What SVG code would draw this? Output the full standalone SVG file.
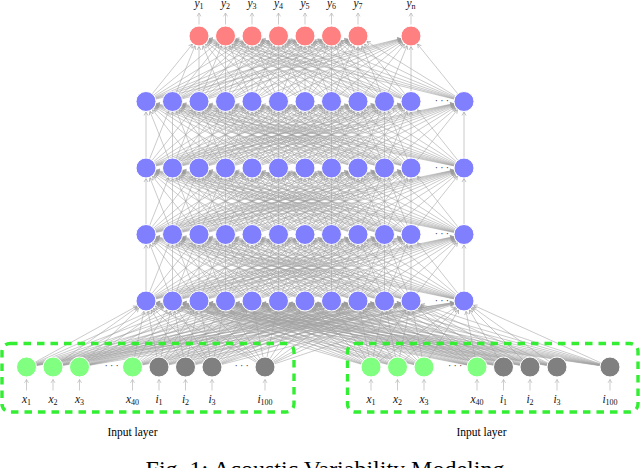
<svg xmlns="http://www.w3.org/2000/svg" xmlns:xlink="http://www.w3.org/1999/xlink" width="640" height="468" viewBox="0 0 640 468">
<style>
.c path{stroke:#a0a0a0;stroke-width:0.55;fill:none;marker-end:url(#ah)}
.sa line{stroke:#b8b8b8;stroke-width:0.7;marker-end:url(#ah2)}
.hn{fill:#8080ff;stroke:#fff;stroke-width:1}
.on{fill:#ff8080;stroke:#fff;stroke-width:1}
.xn{fill:#80ff80;stroke:#fff;stroke-width:1}
.in{fill:#808080;stroke:#fff;stroke-width:1}
.lb{font-family:"Liberation Serif",serif;font-style:italic;font-size:11.5px;text-anchor:middle;fill:#111}
.sb{font-style:normal;font-size:8px}
.dt{font-family:"Liberation Serif",serif;font-size:10px;letter-spacing:2.2px;fill:#333}
.tt{font-family:"Liberation Serif",serif;font-size:11.5px;text-anchor:middle;fill:#000}
.cap{font-family:"Liberation Serif",serif;font-size:24px;text-anchor:middle;fill:#000}
.bx{fill:none;stroke:#33ee33;stroke-width:3.4;stroke-dasharray:7.5 6}
</style>
<defs>
<marker id="ah" markerUnits="userSpaceOnUse" orient="auto" overflow="visible" markerWidth="1" markerHeight="1" refX="0" refY="0"><path d="M-14,-2 L-10.6,0 L-14,2" fill="none" stroke="#999" stroke-width="0.6"/></marker>
<marker id="ah2" markerUnits="userSpaceOnUse" orient="auto" overflow="visible" markerWidth="1" markerHeight="1" refX="0" refY="0"><path d="M-3.4,-2 L0,0 L-3.4,2" fill="none" stroke="#b8b8b8" stroke-width="0.7"/></marker>
<g id="hh" class="c">
<path d="M146 66.5L146 0"/><path d="M146 66.5L172.5 0"/><path d="M146 66.5L199 0"/><path d="M146 66.5L225.5 0"/><path d="M146 66.5L252 0"/><path d="M146 66.5L278.5 0"/><path d="M146 66.5L305 0"/><path d="M146 66.5L331.5 0"/><path d="M146 66.5L358 0"/><path d="M146 66.5L384.5 0"/><path d="M146 66.5L411 0"/><path d="M146 66.5L464 0"/>
<path d="M172.5 66.5L146 0"/><path d="M172.5 66.5L172.5 0"/><path d="M172.5 66.5L199 0"/><path d="M172.5 66.5L225.5 0"/><path d="M172.5 66.5L252 0"/><path d="M172.5 66.5L278.5 0"/><path d="M172.5 66.5L305 0"/><path d="M172.5 66.5L331.5 0"/><path d="M172.5 66.5L358 0"/><path d="M172.5 66.5L384.5 0"/><path d="M172.5 66.5L411 0"/><path d="M172.5 66.5L464 0"/>
<path d="M199 66.5L146 0"/><path d="M199 66.5L172.5 0"/><path d="M199 66.5L199 0"/><path d="M199 66.5L225.5 0"/><path d="M199 66.5L252 0"/><path d="M199 66.5L278.5 0"/><path d="M199 66.5L305 0"/><path d="M199 66.5L331.5 0"/><path d="M199 66.5L358 0"/><path d="M199 66.5L384.5 0"/><path d="M199 66.5L411 0"/><path d="M199 66.5L464 0"/>
<path d="M225.5 66.5L146 0"/><path d="M225.5 66.5L172.5 0"/><path d="M225.5 66.5L199 0"/><path d="M225.5 66.5L225.5 0"/><path d="M225.5 66.5L252 0"/><path d="M225.5 66.5L278.5 0"/><path d="M225.5 66.5L305 0"/><path d="M225.5 66.5L331.5 0"/><path d="M225.5 66.5L358 0"/><path d="M225.5 66.5L384.5 0"/><path d="M225.5 66.5L411 0"/><path d="M225.5 66.5L464 0"/>
<path d="M252 66.5L146 0"/><path d="M252 66.5L172.5 0"/><path d="M252 66.5L199 0"/><path d="M252 66.5L225.5 0"/><path d="M252 66.5L252 0"/><path d="M252 66.5L278.5 0"/><path d="M252 66.5L305 0"/><path d="M252 66.5L331.5 0"/><path d="M252 66.5L358 0"/><path d="M252 66.5L384.5 0"/><path d="M252 66.5L411 0"/><path d="M252 66.5L464 0"/>
<path d="M278.5 66.5L146 0"/><path d="M278.5 66.5L172.5 0"/><path d="M278.5 66.5L199 0"/><path d="M278.5 66.5L225.5 0"/><path d="M278.5 66.5L252 0"/><path d="M278.5 66.5L278.5 0"/><path d="M278.5 66.5L305 0"/><path d="M278.5 66.5L331.5 0"/><path d="M278.5 66.5L358 0"/><path d="M278.5 66.5L384.5 0"/><path d="M278.5 66.5L411 0"/><path d="M278.5 66.5L464 0"/>
<path d="M305 66.5L146 0"/><path d="M305 66.5L172.5 0"/><path d="M305 66.5L199 0"/><path d="M305 66.5L225.5 0"/><path d="M305 66.5L252 0"/><path d="M305 66.5L278.5 0"/><path d="M305 66.5L305 0"/><path d="M305 66.5L331.5 0"/><path d="M305 66.5L358 0"/><path d="M305 66.5L384.5 0"/><path d="M305 66.5L411 0"/><path d="M305 66.5L464 0"/>
<path d="M331.5 66.5L146 0"/><path d="M331.5 66.5L172.5 0"/><path d="M331.5 66.5L199 0"/><path d="M331.5 66.5L225.5 0"/><path d="M331.5 66.5L252 0"/><path d="M331.5 66.5L278.5 0"/><path d="M331.5 66.5L305 0"/><path d="M331.5 66.5L331.5 0"/><path d="M331.5 66.5L358 0"/><path d="M331.5 66.5L384.5 0"/><path d="M331.5 66.5L411 0"/><path d="M331.5 66.5L464 0"/>
<path d="M358 66.5L146 0"/><path d="M358 66.5L172.5 0"/><path d="M358 66.5L199 0"/><path d="M358 66.5L225.5 0"/><path d="M358 66.5L252 0"/><path d="M358 66.5L278.5 0"/><path d="M358 66.5L305 0"/><path d="M358 66.5L331.5 0"/><path d="M358 66.5L358 0"/><path d="M358 66.5L384.5 0"/><path d="M358 66.5L411 0"/><path d="M358 66.5L464 0"/>
<path d="M384.5 66.5L146 0"/><path d="M384.5 66.5L172.5 0"/><path d="M384.5 66.5L199 0"/><path d="M384.5 66.5L225.5 0"/><path d="M384.5 66.5L252 0"/><path d="M384.5 66.5L278.5 0"/><path d="M384.5 66.5L305 0"/><path d="M384.5 66.5L331.5 0"/><path d="M384.5 66.5L358 0"/><path d="M384.5 66.5L384.5 0"/><path d="M384.5 66.5L411 0"/><path d="M384.5 66.5L464 0"/>
<path d="M411 66.5L146 0"/><path d="M411 66.5L172.5 0"/><path d="M411 66.5L199 0"/><path d="M411 66.5L225.5 0"/><path d="M411 66.5L252 0"/><path d="M411 66.5L278.5 0"/><path d="M411 66.5L305 0"/><path d="M411 66.5L331.5 0"/><path d="M411 66.5L358 0"/><path d="M411 66.5L384.5 0"/><path d="M411 66.5L411 0"/><path d="M411 66.5L464 0"/>
<path d="M464 66.5L146 0"/><path d="M464 66.5L172.5 0"/><path d="M464 66.5L199 0"/><path d="M464 66.5L225.5 0"/><path d="M464 66.5L252 0"/><path d="M464 66.5L278.5 0"/><path d="M464 66.5L305 0"/><path d="M464 66.5L331.5 0"/><path d="M464 66.5L358 0"/><path d="M464 66.5L384.5 0"/><path d="M464 66.5L411 0"/><path d="M464 66.5L464 0"/>
</g>
</defs>
<rect width="640" height="468" fill="#fff"/>
<g id="connectors">
<use xlink:href="#hh" href="#hh" y="101.5"/>
<use xlink:href="#hh" href="#hh" y="168"/>
<use xlink:href="#hh" href="#hh" y="234.5"/>
<g class="c">
<path d="M146 101.5L199 36"/><path d="M146 101.5L225.5 36"/><path d="M146 101.5L252 36"/><path d="M146 101.5L278.5 36"/><path d="M146 101.5L305 36"/><path d="M146 101.5L331.5 36"/><path d="M146 101.5L358 36"/><path d="M146 101.5L411 36"/>
<path d="M172.5 101.5L199 36"/><path d="M172.5 101.5L225.5 36"/><path d="M172.5 101.5L252 36"/><path d="M172.5 101.5L278.5 36"/><path d="M172.5 101.5L305 36"/><path d="M172.5 101.5L331.5 36"/><path d="M172.5 101.5L358 36"/><path d="M172.5 101.5L411 36"/>
<path d="M199 101.5L199 36"/><path d="M199 101.5L225.5 36"/><path d="M199 101.5L252 36"/><path d="M199 101.5L278.5 36"/><path d="M199 101.5L305 36"/><path d="M199 101.5L331.5 36"/><path d="M199 101.5L358 36"/><path d="M199 101.5L411 36"/>
<path d="M225.5 101.5L199 36"/><path d="M225.5 101.5L225.5 36"/><path d="M225.5 101.5L252 36"/><path d="M225.5 101.5L278.5 36"/><path d="M225.5 101.5L305 36"/><path d="M225.5 101.5L331.5 36"/><path d="M225.5 101.5L358 36"/><path d="M225.5 101.5L411 36"/>
<path d="M252 101.5L199 36"/><path d="M252 101.5L225.5 36"/><path d="M252 101.5L252 36"/><path d="M252 101.5L278.5 36"/><path d="M252 101.5L305 36"/><path d="M252 101.5L331.5 36"/><path d="M252 101.5L358 36"/><path d="M252 101.5L411 36"/>
<path d="M278.5 101.5L199 36"/><path d="M278.5 101.5L225.5 36"/><path d="M278.5 101.5L252 36"/><path d="M278.5 101.5L278.5 36"/><path d="M278.5 101.5L305 36"/><path d="M278.5 101.5L331.5 36"/><path d="M278.5 101.5L358 36"/><path d="M278.5 101.5L411 36"/>
<path d="M305 101.5L199 36"/><path d="M305 101.5L225.5 36"/><path d="M305 101.5L252 36"/><path d="M305 101.5L278.5 36"/><path d="M305 101.5L305 36"/><path d="M305 101.5L331.5 36"/><path d="M305 101.5L358 36"/><path d="M305 101.5L411 36"/>
<path d="M331.5 101.5L199 36"/><path d="M331.5 101.5L225.5 36"/><path d="M331.5 101.5L252 36"/><path d="M331.5 101.5L278.5 36"/><path d="M331.5 101.5L305 36"/><path d="M331.5 101.5L331.5 36"/><path d="M331.5 101.5L358 36"/><path d="M331.5 101.5L411 36"/>
<path d="M358 101.5L199 36"/><path d="M358 101.5L225.5 36"/><path d="M358 101.5L252 36"/><path d="M358 101.5L278.5 36"/><path d="M358 101.5L305 36"/><path d="M358 101.5L331.5 36"/><path d="M358 101.5L358 36"/><path d="M358 101.5L411 36"/>
<path d="M384.5 101.5L199 36"/><path d="M384.5 101.5L225.5 36"/><path d="M384.5 101.5L252 36"/><path d="M384.5 101.5L278.5 36"/><path d="M384.5 101.5L305 36"/><path d="M384.5 101.5L331.5 36"/><path d="M384.5 101.5L358 36"/><path d="M384.5 101.5L411 36"/>
<path d="M411 101.5L199 36"/><path d="M411 101.5L225.5 36"/><path d="M411 101.5L252 36"/><path d="M411 101.5L278.5 36"/><path d="M411 101.5L305 36"/><path d="M411 101.5L331.5 36"/><path d="M411 101.5L358 36"/><path d="M411 101.5L411 36"/>
<path d="M464 101.5L199 36"/><path d="M464 101.5L225.5 36"/><path d="M464 101.5L252 36"/><path d="M464 101.5L278.5 36"/><path d="M464 101.5L305 36"/><path d="M464 101.5L331.5 36"/><path d="M464 101.5L358 36"/><path d="M464 101.5L411 36"/>
<path d="M26.5 367L146 301"/><path d="M26.5 367L172.5 301"/><path d="M26.5 367L199 301"/><path d="M26.5 367L225.5 301"/><path d="M26.5 367L252 301"/><path d="M26.5 367L278.5 301"/><path d="M26.5 367L305 301"/><path d="M26.5 367L331.5 301"/><path d="M26.5 367L358 301"/><path d="M26.5 367L384.5 301"/><path d="M26.5 367L411 301"/><path d="M26.5 367L464 301"/>
<path d="M53 367L146 301"/><path d="M53 367L172.5 301"/><path d="M53 367L199 301"/><path d="M53 367L225.5 301"/><path d="M53 367L252 301"/><path d="M53 367L278.5 301"/><path d="M53 367L305 301"/><path d="M53 367L331.5 301"/><path d="M53 367L358 301"/><path d="M53 367L384.5 301"/><path d="M53 367L411 301"/><path d="M53 367L464 301"/>
<path d="M79.5 367L146 301"/><path d="M79.5 367L172.5 301"/><path d="M79.5 367L199 301"/><path d="M79.5 367L225.5 301"/><path d="M79.5 367L252 301"/><path d="M79.5 367L278.5 301"/><path d="M79.5 367L305 301"/><path d="M79.5 367L331.5 301"/><path d="M79.5 367L358 301"/><path d="M79.5 367L384.5 301"/><path d="M79.5 367L411 301"/><path d="M79.5 367L464 301"/>
<path d="M132.5 367L146 301"/><path d="M132.5 367L172.5 301"/><path d="M132.5 367L199 301"/><path d="M132.5 367L225.5 301"/><path d="M132.5 367L252 301"/><path d="M132.5 367L278.5 301"/><path d="M132.5 367L305 301"/><path d="M132.5 367L331.5 301"/><path d="M132.5 367L358 301"/><path d="M132.5 367L384.5 301"/><path d="M132.5 367L411 301"/><path d="M132.5 367L464 301"/>
<path d="M159 367L146 301"/><path d="M159 367L172.5 301"/><path d="M159 367L199 301"/><path d="M159 367L225.5 301"/><path d="M159 367L252 301"/><path d="M159 367L278.5 301"/><path d="M159 367L305 301"/><path d="M159 367L331.5 301"/><path d="M159 367L358 301"/><path d="M159 367L384.5 301"/><path d="M159 367L411 301"/><path d="M159 367L464 301"/>
<path d="M185.5 367L146 301"/><path d="M185.5 367L172.5 301"/><path d="M185.5 367L199 301"/><path d="M185.5 367L225.5 301"/><path d="M185.5 367L252 301"/><path d="M185.5 367L278.5 301"/><path d="M185.5 367L305 301"/><path d="M185.5 367L331.5 301"/><path d="M185.5 367L358 301"/><path d="M185.5 367L384.5 301"/><path d="M185.5 367L411 301"/><path d="M185.5 367L464 301"/>
<path d="M212 367L146 301"/><path d="M212 367L172.5 301"/><path d="M212 367L199 301"/><path d="M212 367L225.5 301"/><path d="M212 367L252 301"/><path d="M212 367L278.5 301"/><path d="M212 367L305 301"/><path d="M212 367L331.5 301"/><path d="M212 367L358 301"/><path d="M212 367L384.5 301"/><path d="M212 367L411 301"/><path d="M212 367L464 301"/>
<path d="M265 367L146 301"/><path d="M265 367L172.5 301"/><path d="M265 367L199 301"/><path d="M265 367L225.5 301"/><path d="M265 367L252 301"/><path d="M265 367L278.5 301"/><path d="M265 367L305 301"/><path d="M265 367L331.5 301"/><path d="M265 367L358 301"/><path d="M265 367L384.5 301"/><path d="M265 367L411 301"/><path d="M265 367L464 301"/>
<path d="M371 367L146 301"/><path d="M371 367L172.5 301"/><path d="M371 367L199 301"/><path d="M371 367L225.5 301"/><path d="M371 367L252 301"/><path d="M371 367L278.5 301"/><path d="M371 367L305 301"/><path d="M371 367L331.5 301"/><path d="M371 367L358 301"/><path d="M371 367L384.5 301"/><path d="M371 367L411 301"/><path d="M371 367L464 301"/>
<path d="M397.5 367L146 301"/><path d="M397.5 367L172.5 301"/><path d="M397.5 367L199 301"/><path d="M397.5 367L225.5 301"/><path d="M397.5 367L252 301"/><path d="M397.5 367L278.5 301"/><path d="M397.5 367L305 301"/><path d="M397.5 367L331.5 301"/><path d="M397.5 367L358 301"/><path d="M397.5 367L384.5 301"/><path d="M397.5 367L411 301"/><path d="M397.5 367L464 301"/>
<path d="M424 367L146 301"/><path d="M424 367L172.5 301"/><path d="M424 367L199 301"/><path d="M424 367L225.5 301"/><path d="M424 367L252 301"/><path d="M424 367L278.5 301"/><path d="M424 367L305 301"/><path d="M424 367L331.5 301"/><path d="M424 367L358 301"/><path d="M424 367L384.5 301"/><path d="M424 367L411 301"/><path d="M424 367L464 301"/>
<path d="M477 367L146 301"/><path d="M477 367L172.5 301"/><path d="M477 367L199 301"/><path d="M477 367L225.5 301"/><path d="M477 367L252 301"/><path d="M477 367L278.5 301"/><path d="M477 367L305 301"/><path d="M477 367L331.5 301"/><path d="M477 367L358 301"/><path d="M477 367L384.5 301"/><path d="M477 367L411 301"/><path d="M477 367L464 301"/>
<path d="M503.5 367L146 301"/><path d="M503.5 367L172.5 301"/><path d="M503.5 367L199 301"/><path d="M503.5 367L225.5 301"/><path d="M503.5 367L252 301"/><path d="M503.5 367L278.5 301"/><path d="M503.5 367L305 301"/><path d="M503.5 367L331.5 301"/><path d="M503.5 367L358 301"/><path d="M503.5 367L384.5 301"/><path d="M503.5 367L411 301"/><path d="M503.5 367L464 301"/>
<path d="M530 367L146 301"/><path d="M530 367L172.5 301"/><path d="M530 367L199 301"/><path d="M530 367L225.5 301"/><path d="M530 367L252 301"/><path d="M530 367L278.5 301"/><path d="M530 367L305 301"/><path d="M530 367L331.5 301"/><path d="M530 367L358 301"/><path d="M530 367L384.5 301"/><path d="M530 367L411 301"/><path d="M530 367L464 301"/>
<path d="M557 367L146 301"/><path d="M557 367L172.5 301"/><path d="M557 367L199 301"/><path d="M557 367L225.5 301"/><path d="M557 367L252 301"/><path d="M557 367L278.5 301"/><path d="M557 367L305 301"/><path d="M557 367L331.5 301"/><path d="M557 367L358 301"/><path d="M557 367L384.5 301"/><path d="M557 367L411 301"/><path d="M557 367L464 301"/>
<path d="M610 367L146 301"/><path d="M610 367L172.5 301"/><path d="M610 367L199 301"/><path d="M610 367L225.5 301"/><path d="M610 367L252 301"/><path d="M610 367L278.5 301"/><path d="M610 367L305 301"/><path d="M610 367L331.5 301"/><path d="M610 367L358 301"/><path d="M610 367L384.5 301"/><path d="M610 367L411 301"/><path d="M610 367L464 301"/>
</g>
<g class="sa">
<line x1="199" y1="24.5" x2="199" y2="13"/><line x1="225.5" y1="24.5" x2="225.5" y2="13"/><line x1="252" y1="24.5" x2="252" y2="13"/><line x1="278.5" y1="24.5" x2="278.5" y2="13"/><line x1="305" y1="24.5" x2="305" y2="13"/><line x1="331.5" y1="24.5" x2="331.5" y2="13"/><line x1="358" y1="24.5" x2="358" y2="13"/><line x1="411" y1="24.5" x2="411" y2="13"/>
<line x1="26.5" y1="390.5" x2="26.5" y2="379.5"/><line x1="53" y1="390.5" x2="53" y2="379.5"/><line x1="79.5" y1="390.5" x2="79.5" y2="379.5"/><line x1="132.5" y1="390.5" x2="132.5" y2="379.5"/><line x1="159" y1="390.5" x2="159" y2="379.5"/><line x1="185.5" y1="390.5" x2="185.5" y2="379.5"/><line x1="212" y1="390.5" x2="212" y2="379.5"/><line x1="265" y1="390.5" x2="265" y2="379.5"/>
<line x1="371" y1="390.5" x2="371" y2="379.5"/><line x1="397.5" y1="390.5" x2="397.5" y2="379.5"/><line x1="424" y1="390.5" x2="424" y2="379.5"/><line x1="477" y1="390.5" x2="477" y2="379.5"/><line x1="503.5" y1="390.5" x2="503.5" y2="379.5"/><line x1="530" y1="390.5" x2="530" y2="379.5"/><line x1="557" y1="390.5" x2="557" y2="379.5"/><line x1="610" y1="390.5" x2="610" y2="379.5"/>
</g>
</g>
<g id="input-boxes">
<rect class="bx" x="2" y="343.5" width="292" height="68.5" rx="8"/>
<rect class="bx" x="347.5" y="343.5" width="290.5" height="68.5" rx="8"/>
<text class="tt" x="132.5" y="436">Input layer</text>
<text class="tt" x="481.5" y="436">Input layer</text>
</g>
<g id="output">
<g id="o1"><circle class="on" cx="199" cy="36" r="10"/><text class="lb" x="199" y="7">y<tspan class="sb" dy="2">1</tspan></text></g>
<g id="o2"><circle class="on" cx="225.5" cy="36" r="10"/><text class="lb" x="225.5" y="7">y<tspan class="sb" dy="2">2</tspan></text></g>
<g id="o3"><circle class="on" cx="252" cy="36" r="10"/><text class="lb" x="252" y="7">y<tspan class="sb" dy="2">3</tspan></text></g>
<g id="o4"><circle class="on" cx="278.5" cy="36" r="10"/><text class="lb" x="278.5" y="7">y<tspan class="sb" dy="2">4</tspan></text></g>
<g id="o5"><circle class="on" cx="305" cy="36" r="10"/><text class="lb" x="305" y="7">y<tspan class="sb" dy="2">5</tspan></text></g>
<g id="o6"><circle class="on" cx="331.5" cy="36" r="10"/><text class="lb" x="331.5" y="7">y<tspan class="sb" dy="2">6</tspan></text></g>
<g id="o7"><circle class="on" cx="358" cy="36" r="10"/><text class="lb" x="358" y="7">y<tspan class="sb" dy="2">7</tspan></text></g>
<g id="on"><circle class="on" cx="411" cy="36" r="10"/><text class="lb" x="411" y="7">y<tspan class="sb" dy="2" font-style="italic">n</tspan></text></g>
</g>
<g id="hidden4">
<g id="h4_1"><circle class="hn" cx="146" cy="101.5" r="10"/></g><g id="h4_2"><circle class="hn" cx="172.5" cy="101.5" r="10"/></g><g id="h4_3"><circle class="hn" cx="199" cy="101.5" r="10"/></g><g id="h4_4"><circle class="hn" cx="225.5" cy="101.5" r="10"/></g><g id="h4_5"><circle class="hn" cx="252" cy="101.5" r="10"/></g><g id="h4_6"><circle class="hn" cx="278.5" cy="101.5" r="10"/></g><g id="h4_7"><circle class="hn" cx="305" cy="101.5" r="10"/></g><g id="h4_8"><circle class="hn" cx="331.5" cy="101.5" r="10"/></g><g id="h4_9"><circle class="hn" cx="358" cy="101.5" r="10"/></g><g id="h4_10"><circle class="hn" cx="384.5" cy="101.5" r="10"/></g><g id="h4_11"><circle class="hn" cx="411" cy="101.5" r="10"/></g><g id="h4_n"><circle class="hn" cx="464" cy="101.5" r="10"/></g>
<text class="dt" x="434.8" y="104">···</text>
</g>
<g id="hidden3">
<g id="h3_1"><circle class="hn" cx="146" cy="168" r="10"/></g><g id="h3_2"><circle class="hn" cx="172.5" cy="168" r="10"/></g><g id="h3_3"><circle class="hn" cx="199" cy="168" r="10"/></g><g id="h3_4"><circle class="hn" cx="225.5" cy="168" r="10"/></g><g id="h3_5"><circle class="hn" cx="252" cy="168" r="10"/></g><g id="h3_6"><circle class="hn" cx="278.5" cy="168" r="10"/></g><g id="h3_7"><circle class="hn" cx="305" cy="168" r="10"/></g><g id="h3_8"><circle class="hn" cx="331.5" cy="168" r="10"/></g><g id="h3_9"><circle class="hn" cx="358" cy="168" r="10"/></g><g id="h3_10"><circle class="hn" cx="384.5" cy="168" r="10"/></g><g id="h3_11"><circle class="hn" cx="411" cy="168" r="10"/></g><g id="h3_n"><circle class="hn" cx="464" cy="168" r="10"/></g>
<text class="dt" x="434.8" y="170.5">···</text>
</g>
<g id="hidden2">
<g id="h2_1"><circle class="hn" cx="146" cy="234.5" r="10"/></g><g id="h2_2"><circle class="hn" cx="172.5" cy="234.5" r="10"/></g><g id="h2_3"><circle class="hn" cx="199" cy="234.5" r="10"/></g><g id="h2_4"><circle class="hn" cx="225.5" cy="234.5" r="10"/></g><g id="h2_5"><circle class="hn" cx="252" cy="234.5" r="10"/></g><g id="h2_6"><circle class="hn" cx="278.5" cy="234.5" r="10"/></g><g id="h2_7"><circle class="hn" cx="305" cy="234.5" r="10"/></g><g id="h2_8"><circle class="hn" cx="331.5" cy="234.5" r="10"/></g><g id="h2_9"><circle class="hn" cx="358" cy="234.5" r="10"/></g><g id="h2_10"><circle class="hn" cx="384.5" cy="234.5" r="10"/></g><g id="h2_11"><circle class="hn" cx="411" cy="234.5" r="10"/></g><g id="h2_n"><circle class="hn" cx="464" cy="234.5" r="10"/></g>
<text class="dt" x="434.8" y="237">···</text>
</g>
<g id="hidden1">
<g id="h1_1"><circle class="hn" cx="146" cy="301" r="10"/></g><g id="h1_2"><circle class="hn" cx="172.5" cy="301" r="10"/></g><g id="h1_3"><circle class="hn" cx="199" cy="301" r="10"/></g><g id="h1_4"><circle class="hn" cx="225.5" cy="301" r="10"/></g><g id="h1_5"><circle class="hn" cx="252" cy="301" r="10"/></g><g id="h1_6"><circle class="hn" cx="278.5" cy="301" r="10"/></g><g id="h1_7"><circle class="hn" cx="305" cy="301" r="10"/></g><g id="h1_8"><circle class="hn" cx="331.5" cy="301" r="10"/></g><g id="h1_9"><circle class="hn" cx="358" cy="301" r="10"/></g><g id="h1_10"><circle class="hn" cx="384.5" cy="301" r="10"/></g><g id="h1_11"><circle class="hn" cx="411" cy="301" r="10"/></g><g id="h1_n"><circle class="hn" cx="464" cy="301" r="10"/></g>
<text class="dt" x="434.8" y="303.5">···</text>
</g>
<g id="inputL">
<g id="L_x1"><circle class="xn" cx="26.5" cy="367" r="10"/><text class="lb" x="26.5" y="402.5">x<tspan class="sb" dy="2">1</tspan></text></g>
<g id="L_x2"><circle class="xn" cx="53" cy="367" r="10"/><text class="lb" x="53" y="402.5">x<tspan class="sb" dy="2">2</tspan></text></g>
<g id="L_x3"><circle class="xn" cx="79.5" cy="367" r="10"/><text class="lb" x="79.5" y="402.5">x<tspan class="sb" dy="2">3</tspan></text></g>
<text class="dt" x="104.5" y="369">···</text>
<g id="L_x40"><circle class="xn" cx="132.5" cy="367" r="10"/><text class="lb" x="132.5" y="402.5">x<tspan class="sb" dy="2">40</tspan></text></g>
<g id="L_i1"><circle class="in" cx="159" cy="367" r="10"/><text class="lb" x="159" y="402.5">i<tspan class="sb" dy="2">1</tspan></text></g>
<g id="L_i2"><circle class="in" cx="185.5" cy="367" r="10"/><text class="lb" x="185.5" y="402.5">i<tspan class="sb" dy="2">2</tspan></text></g>
<g id="L_i3"><circle class="in" cx="212" cy="367" r="10"/><text class="lb" x="212" y="402.5">i<tspan class="sb" dy="2">3</tspan></text></g>
<text class="dt" x="234.5" y="369">···</text>
<g id="L_i100"><circle class="in" cx="265" cy="367" r="10"/><text class="lb" x="265" y="402.5">i<tspan class="sb" dy="2">100</tspan></text></g>
</g>
<g id="inputR">
<g id="R_x1"><circle class="xn" cx="371" cy="367" r="10"/><text class="lb" x="371" y="402.5">x<tspan class="sb" dy="2">1</tspan></text></g>
<g id="R_x2"><circle class="xn" cx="397.5" cy="367" r="10"/><text class="lb" x="397.5" y="402.5">x<tspan class="sb" dy="2">2</tspan></text></g>
<g id="R_x3"><circle class="xn" cx="424" cy="367" r="10"/><text class="lb" x="424" y="402.5">x<tspan class="sb" dy="2">3</tspan></text></g>
<text class="dt" x="448" y="369">···</text>
<g id="R_x40"><circle class="xn" cx="477" cy="367" r="10"/><text class="lb" x="477" y="402.5">x<tspan class="sb" dy="2">40</tspan></text></g>
<g id="R_i1"><circle class="in" cx="503.5" cy="367" r="10"/><text class="lb" x="503.5" y="402.5">i<tspan class="sb" dy="2">1</tspan></text></g>
<g id="R_i2"><circle class="in" cx="530" cy="367" r="10"/><text class="lb" x="530" y="402.5">i<tspan class="sb" dy="2">2</tspan></text></g>
<g id="R_i3"><circle class="in" cx="557" cy="367" r="10"/><text class="lb" x="557" y="402.5">i<tspan class="sb" dy="2">3</tspan></text></g>
<g id="R_i100"><circle class="in" cx="610" cy="367" r="10"/><text class="lb" x="610" y="402.5">i<tspan class="sb" dy="2">100</tspan></text></g>
</g>
<text class="cap" x="325" y="477">Fig. 1: Acoustic Variability Modeling</text>
</svg>
